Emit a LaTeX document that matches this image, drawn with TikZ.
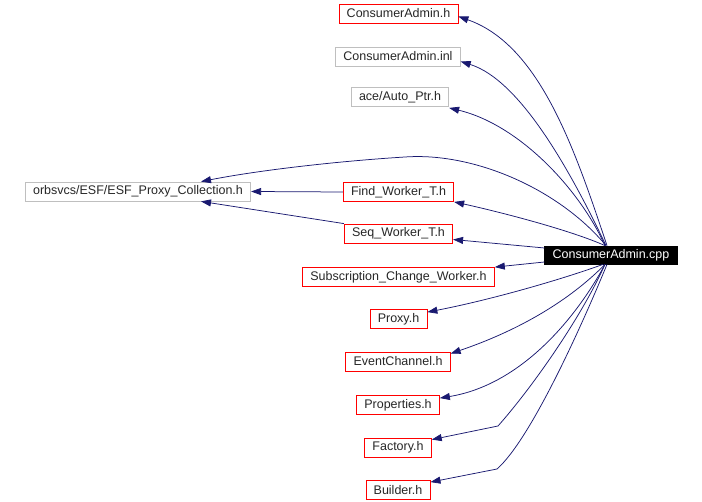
\documentclass[tikz,border=0pt]{standalone}
\usepackage{fontspec}
\setmainfont{Liberation Sans}
\usepackage{xcolor}
\usepackage{tikz}
\usetikzlibrary{arrows.meta}
\definecolor{edgeblue}{RGB}{25,25,112}
\definecolor{boxgray}{RGB}{191,191,191}

\begin{document}
\begin{tikzpicture}[x=1pt, y=-1pt, line width=0.8pt,
    file/.style={draw=red, rectangle, inner xsep=7.75pt, inner ysep=0pt, minimum height=19pt, font=\fontsize{12.5}{14}\selectfont, text=black!85},
    extfile/.style={file, draw=boxgray},
    root/.style={file, draw=black, fill=black, text=white, minimum height=18pt},
    dep/.style={-{Triangle[length=10pt, width=7pt]}, edgeblue, line width=0.75pt}]
  \useasboundingbox (0,0) rectangle (702,502);

  % included files
  \node[file] (cah) at (398.5,13.5) {ConsumerAdmin.h};
  \node[extfile] (cainl) at (398,56.5) {ConsumerAdmin.inl};
  \node[extfile] (autoptr) at (400,97) {ace/Auto\_Ptr.h};
  \node[extfile] (coll) at (138,191.5) {orbsvcs/ESF/ESF\_Proxy\_Collection.h};
  \node[file] (find) at (398.5,192) {Find\_Worker\_T.h};
  \node[file] (seq) at (398.5,233.5) {Seq\_Worker\_T.h};
  \node[file] (scw) at (398.5,277) {Subscription\_Change\_Worker.h};
  \node[file] (proxy) at (398.5,319) {Proxy.h};
  \node[file] (ec) at (398,361.5) {EventChannel.h};
  \node[file] (props) at (398,405) {Properties.h};
  \node[file] (factory) at (398,447.5) {Factory.h};
  \node[file] (builder) at (398,490) {Builder.h};
  \node[root] (cpp) at (611,255) {ConsumerAdmin.cpp};

  % edges going up
  \draw[dep] ([xshift=-4pt]cpp.north) .. controls (575,150) and (540,45) .. ([yshift=-3pt]cah.east);
  \draw[dep] ([xshift=-5pt]cpp.north) .. controls (570,170) and (520,80) .. ([yshift=-5pt]cainl.east);
  \draw[dep] ([xshift=-6pt]cpp.north) .. controls (580,190) and (520,125) .. ([yshift=-1pt]autoptr.south east);
  \draw[dep] ([xshift=-5pt]cpp.north) .. controls (560,190) and (475,152) .. (405,157)
    .. controls (340,161) and (260,170) .. ([xshift=63pt]coll.north);
  \draw[dep] ([xshift=-6pt]cpp.north) .. controls (570,230) and (500,212) .. (find.south east);
  \draw[dep] ([yshift=7pt]cpp.west) -- ([yshift=-6pt]seq.east);
  \draw[dep] ([yshift=-7pt]cpp.west) -- (scw.north east);

  % edges going down
  \draw[dep] ([xshift=-8pt]cpp.south) .. controls (560,280) and (490,300) .. ([yshift=-3pt]proxy.north east);
  \draw[dep] ([xshift=-6pt]cpp.south) .. controls (570,300) and (520,330) .. ([yshift=-2pt]ec.north east);
  \draw[dep] ([xshift=-6pt]cpp.south) .. controls (575,320) and (520,385) .. ([yshift=-3pt]props.north east);
  \draw[dep] ([xshift=-6pt]cpp.south) .. controls (580,320) and (530,390) .. (498,426) -- ([yshift=-2pt]factory.north east);
  \draw[dep] ([xshift=-4pt]cpp.south) .. controls (580,330) and (530,440) .. (497,469) -- ([yshift=-2pt]builder.north east);

  % collection users
  \draw[dep] (find.west) -- (coll.east);
  \draw[dep] (seq.north west) -- ([xshift=63pt]coll.south);
\end{tikzpicture}
\end{document}
